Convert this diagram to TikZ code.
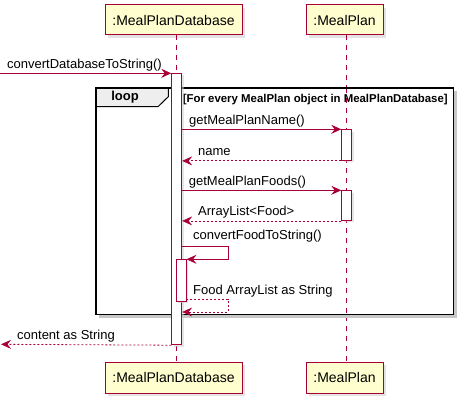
\documentclass[tikz,border=0pt]{standalone}
\usepackage{fontspec}
\setmainfont{Liberation Sans}
\usetikzlibrary{arrows.meta,shadows}
\definecolor{umlred}{HTML}{A80036}
\definecolor{umlfill}{HTML}{FEFECE}
\definecolor{tabfill}{HTML}{EEEEEE}
\begin{document}
\begin{tikzpicture}[x=1pt,y=-1pt,
  participant/.style={draw=umlred, line width=1pt, fill=umlfill, minimum height=30pt, inner sep=0pt,
    font=\fontsize{14}{16}\selectfont,
    drop shadow={shadow xshift=3pt, shadow yshift=-3pt, fill=black!22}},
  lifeline/.style={draw=umlred, line width=0.8pt, dash pattern=on 5pt off 5pt},
  activation/.style={draw=umlred, fill=white, line width=0.9pt, minimum width=10pt, inner sep=0pt,
    drop shadow={shadow xshift=2pt, shadow yshift=-2pt, fill=black!20}},
  msg/.style={draw=umlred, line width=0.8pt, -{Stealth[length=10pt,width=9pt,inset=3.5pt]}},
  ret/.style={msg, dash pattern=on 2pt off 2pt},
  lbl/.style={font=\fontsize{13}{15}\selectfont, inner sep=0pt, anchor=base west},
  frame/.style={draw=black, line width=1.6pt}
]
\useasboundingbox (0,0) rectangle (465,406);

% participants
\node[participant, minimum width=137pt] (dbTop) at (173.5,20) {:MealPlanDatabase};
\node[participant, minimum width=77pt] (mpTop) at (344.5,20) {:MealPlan};
\node[participant, minimum width=137pt, minimum height=31pt] (dbBot) at (173.5,377.5) {:MealPlanDatabase};
\node[participant, minimum width=77pt, minimum height=31pt] (mpBot) at (344.5,377.5) {:MealPlan};

% lifelines
\draw[lifeline] ([xshift=2.5pt]dbTop.south) -- ([xshift=2.5pt]dbBot.north);
\draw[lifeline] ([xshift=2pt]mpTop.south) -- ([xshift=2pt]mpBot.north);

% loop frame
\fill[black!22] (98.7,91.3) rectangle (456.5,317.5);
\fill[white] (95.7,88.3) rectangle (453,314);
\draw[lifeline] (346.5,88.3) -- (346.5,314);
\node[draw=none, inner sep=0pt, minimum width=357.3pt, minimum height=225.7pt, anchor=north west] (loopFrame) at (95.7,88.3) {};
\filldraw[fill=tabfill, draw=black, line width=1pt] (loopFrame.north west) -- (168.3,88.3) -- (168.3,96.7) -- (158,106.7) -- (95.7,106.7) -- cycle;
\draw[frame] (loopFrame.north west) rectangle (loopFrame.south east);
\node[font=\bfseries\fontsize{13}{15}\selectfont, inner sep=0pt] (loopLbl) at (125,97.5) {loop};
\node[font=\bfseries\fontsize{11.4}{13}\selectfont, inner sep=0pt, anchor=base west] (guard) at (182.7,102.5) {[For every MealPlan object in MealPlanDatabase]};

% activations
\node[activation, minimum height=271.6pt, anchor=north] (actDB) at (176.7,72.7) {};
\node[activation, minimum height=30.7pt, anchor=north] (actMP1) at (346.7,129.3) {};
\node[activation, minimum height=29.7pt, anchor=north] (actMP2) at (346.7,190.3) {};
\node[activation, minimum height=41.4pt, anchor=north] (actDB2) at (181,259.3) {};

% incoming call
\coordinate (caller) at (0,73.3);
\draw[msg] (caller) -- (caller -| actDB.west);
\node[lbl] (l1) at (7,68.5) {convertDatabaseToString()};

% getMealPlanName
\draw[msg] (actDB.east |- actMP1.north) -- (actMP1.north west);
\node[lbl] (l2) at (189,124.5) {getMealPlanName()};
\draw[ret] (actMP1.south west) -- (actDB.east |- actMP1.south);
\node[lbl] (l3) at (198,155) {name};

% getMealPlanFoods
\draw[msg] (actDB.east |- actMP2.north) -- (actMP2.north west);
\node[lbl] (l4) at (188.7,185.5) {getMealPlanFoods()};
\draw[ret] (actMP2.south west) -- (actDB.east |- actMP2.south);
\node[lbl] (l5) at (198,215) {ArrayList<Food>};

% self call
\coordinate (selfOut) at (actDB.east |- 0,246.7);
\coordinate (selfR1) at (228.3,246.7);
\coordinate (selfR2) at (228.3,259.3);
\draw[msg] (selfOut) -- (selfR1) -- (selfR2) -- (selfR2 -| actDB2.east);
\node[lbl] (l6) at (193,239.5) {convertFoodToString()};

% self return
\coordinate (retOut) at (actDB2.east |- 0,299.3);
\coordinate (retR1) at (228.3,299.3);
\coordinate (retR2) at (228.3,312);
\draw[ret] (retOut) -- (retR1) -- (retR2) -- (retR2 -| actDB.east);
\node[lbl] (l7) at (193,294) {Food ArrayList as String};

% final return
\coordinate (callerBack) at (1,344.3);
\draw[ret] (actDB.south west) -- (callerBack);
\node[lbl] (l8) at (17,339) {content as String};
\end{tikzpicture}
\end{document}
